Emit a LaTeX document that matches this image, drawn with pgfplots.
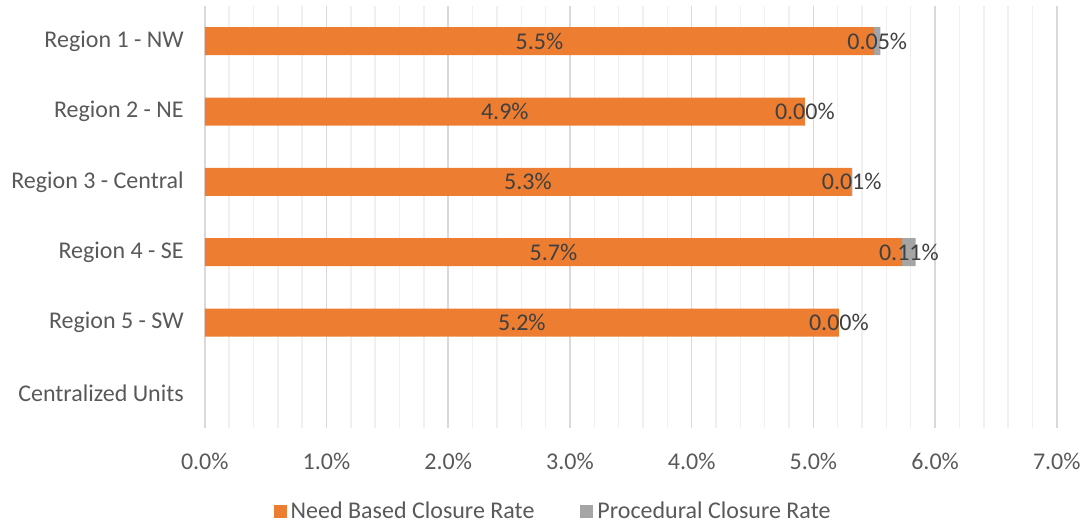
\documentclass[border=0pt]{standalone}
\usepackage{pgfplots}
\pgfplotsset{compat=1.18}
\usepackage{fontspec}
\setmainfont{Carlito}
\definecolor{orng}{HTML}{ED7D31}
\definecolor{gry}{HTML}{A5A5A5}
\definecolor{txt}{HTML}{595959}
\definecolor{lbl}{HTML}{404040}
\definecolor{gmaj}{HTML}{D9D9D9}
\definecolor{gmin}{HTML}{F0F0F0}
\begin{document}
\begin{tikzpicture}
\pgfplotsset{
  base/.style={
    width=426pt, height=211pt, scale only axis,
    xmin=0, xmax=7, ymin=-0.5, ymax=5.5, y dir=reverse,
  }
}
\begin{axis}[base, name=main,
  xbar stacked, bar width=14pt,
  axis line style={draw=none},
  xtick={0,1,...,7}, minor x tick num=4,
  xmajorgrids, xminorgrids,
  major grid style={gmaj, line width=0.75pt},
  minor grid style={gmin, line width=0.75pt},
  major tick length=0pt, minor tick length=0pt,
  ytick={0,1,2,3,4,5},
  yticklabels={Region 1 - NW, Region 2 - NE, Region 3 - Central, Region 4 - SE, Region 5 - SW, Centralized Units},
  tick label style={font=\fontsize{12}{14}\selectfont, text=txt},
  /pgf/number format/assume math mode=true,
  xticklabel={\pgfmathprintnumber[fixed,fixed zerofill,precision=1]{\tick}\%},
  xticklabel style={yshift=-9pt},
  yticklabel style={xshift=-7pt},
  legend columns=2,
  legend style={at={(0.41,-0.199)}, anchor=center, draw=none, fill=none,
    font=\fontsize{12}{14}\selectfont, text=txt,
    /tikz/every even column/.append style={column sep=21pt}},
  legend cell align=left,
]
\addplot[fill=orng, draw=none,
  legend image code/.code={\fill[orng] (0pt,-3.25pt) rectangle (6.5pt,3.25pt);}]
  coordinates {(5.50,0) (4.93,1) (5.31,2) (5.73,3) (5.21,4) (0,5)};
\addlegendentry{Need Based Closure Rate}
\addplot[fill=gry, draw=none,
  legend image code/.code={\fill[gry] (0pt,-3.25pt) rectangle (6.5pt,3.25pt);}]
  coordinates {(0.05,0) (0.00,1) (0.01,2) (0.11,3) (0.00,4) (0,5)};
\addlegendentry{Procedural Closure Rate}
\end{axis}
\begin{axis}[base, hide axis]
\addplot[draw=none, mark=none, nodes near coords, point meta=explicit symbolic,
  every node near coord/.style={anchor=center, font=\fontsize{12}{14}\selectfont, text=lbl}]
  coordinates {(2.75,0) [5.5\%] (2.465,1) [4.9\%] (2.655,2) [5.3\%] (2.865,3) [5.7\%] (2.605,4) [5.2\%]};
\addplot[draw=none, mark=none, nodes near coords, point meta=explicit symbolic,
  every node near coord/.style={anchor=center, font=\fontsize{12}{14}\selectfont, text=lbl}]
  coordinates {(5.525,0) [0.05\%] (4.93,1) [0.00\%] (5.315,2) [0.01\%] (5.785,3) [0.11\%] (5.21,4) [0.00\%]};
\end{axis}
\pgfresetboundingbox
\path[use as bounding box] ([xshift=-102.4pt,yshift=-49pt]main.south west) rectangle ++(541pt,263pt);
\end{tikzpicture}
\end{document}
